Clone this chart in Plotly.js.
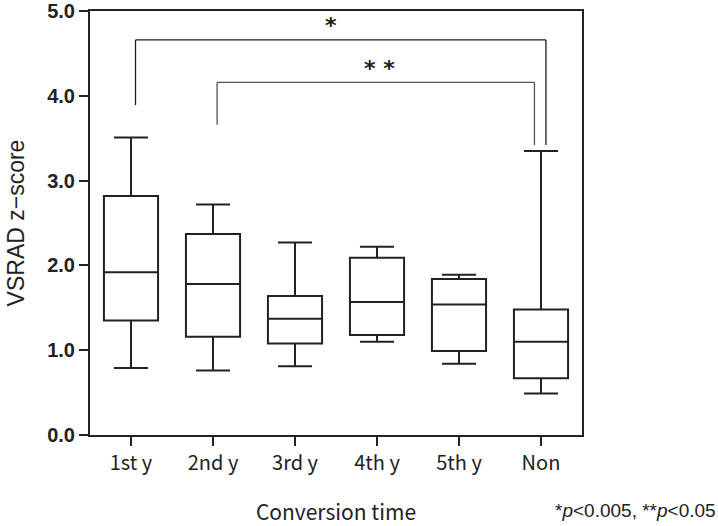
<!DOCTYPE html>
<html>
<head>
<meta charset="utf-8">
<script src="https://cdn.plot.ly/plotly-3.0.1.min.js"></script>
<style>html,body{margin:0;padding:0;background:#fff;}#chart{width:718px;height:526px;}</style>
</head>
<body>
<div id="chart"></div>
<script>
const categories = ["1st y", "2nd y", "3rd y", "4th y", "5th y", "Non"];
const lowerWhisker = [0.79, 0.76, 0.81, 1.10, 0.84, 0.49];
const q1Values     = [1.35, 1.16, 1.08, 1.18, 0.99, 0.67];
const medianValues = [1.92, 1.78, 1.37, 1.57, 1.54, 1.10];
const q3Values     = [2.82, 2.37, 1.64, 2.09, 1.84, 1.48];
const upperWhisker = [3.51, 2.72, 2.27, 2.22, 1.89, 3.35];
const yTickVals = [0, 1, 2, 3, 4, 5];
const yTickText = ["0.0", "1.0", "2.0", "3.0", "4.0", "5.0"];
// significance brackets: [xLeft, xRight, yTop, yLeftEnd, yRightEnd, label, labelX]
const bracketStar1 = [0.055, 5.06, 4.66, 3.89, 3.42, "*", 2.44];
const bracketStar2 = [1.05, 4.92, 4.16, 3.66, 3.42, "* *", 3.03];
const footnote = "*<i>p</i><0.005, **<i>p</i><0.05";

const ink = "#222222";
const trace = {
  type: "box",
  x: categories,
  q1: q1Values,
  median: medianValues,
  q3: q3Values,
  lowerfence: lowerWhisker,
  upperfence: upperWhisker,
  width: 0.66,
  whiskerwidth: 0.63,
  fillcolor: "#ffffff",
  line: {color: ink, width: 2},
  boxpoints: false,
  hoverinfo: "skip",
  showlegend: false
};

function bracketShapes(b, color) {
  const base = {type: "line", xref: "x", yref: "y", line: {color: color, width: 1.3}};
  return [
    Object.assign({}, base, {x0: b[0], x1: b[0], y0: b[3], y1: b[2]}),
    Object.assign({}, base, {x0: b[0], x1: b[1], y0: b[2], y1: b[2]}),
    Object.assign({}, base, {x0: b[1], x1: b[1], y0: b[2], y1: b[4]})
  ];
}
function bracketLabel(b) {
  return {xref: "x", yref: "y", x: b[6], y: b[2], text: b[5], showarrow: false,
    yanchor: "middle", yshift: 14, font: {family: "DejaVu Sans", size: 22, color: ink, weight: "bold"}};
}

const layout = {
  width: 718, height: 526,
  margin: {l: 90, r: 136, t: 11, b: 91},
  paper_bgcolor: "#ffffff", plot_bgcolor: "#ffffff",
  xaxis: {
    type: "category",
    range: [-0.5, 5.5],
    showline: true, mirror: true, linecolor: ink, linewidth: 2,
    ticks: "outside", ticklen: 9, tickwidth: 2, tickcolor: ink,
    showgrid: false, zeroline: false,
    tickfont: {family: "Noto Sans CJK JP", size: 20, color: ink},
    title: {text: "Conversion time", standoff: 36, font: {family: "Noto Sans CJK JP", size: 21, color: ink}}
  },
  yaxis: {
    range: [0, 5.001],
    tickvals: yTickVals, ticktext: yTickText,
    ticklabeloverflow: "allow",
    showline: true, mirror: true, linecolor: ink, linewidth: 2,
    ticks: "outside", ticklen: 9, tickwidth: 2, tickcolor: ink,
    showgrid: false, zeroline: false,
    tickfont: {family: "Liberation Sans", size: 20, color: ink, weight: "bold"},
    title: {text: "VSRAD z\u2212score", standoff: 16, font: {family: "Liberation Sans", size: 23, color: ink}}
  },
  shapes: bracketShapes(bracketStar1, "#1a1a1a").concat(bracketShapes(bracketStar2, "#555555")),
  annotations: [
    bracketLabel(bracketStar1),
    bracketLabel(bracketStar2),
    {xref: "paper", yref: "paper", x: 1.0, xshift: 136, y: 0, yshift: -75, xanchor: "right", yanchor: "middle",
     text: footnote, showarrow: false, font: {family: "Liberation Sans", size: 19, color: ink}}
  ]
};

Plotly.newPlot("chart", [trace], layout, {staticPlot: true, displayModeBar: false});
</script>
</body>
</html>
